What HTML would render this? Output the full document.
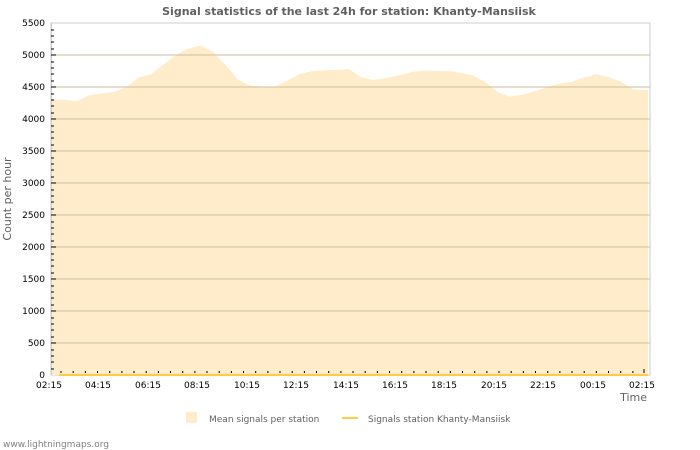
<!DOCTYPE html>
<html><head><meta charset="utf-8"><style>
body{margin:0;background:#fff;}
svg{display:block;font-family:"DejaVu Sans","Liberation Sans",sans-serif;}
</style></head><body>
<svg width="700" height="450" xmlns="http://www.w3.org/2000/svg">
<rect width="700" height="450" fill="#fff"/>
<text x="349" y="15" text-anchor="middle" font-size="11" font-weight="bold" fill="#606060">Signal statistics of the last 24h for station: Khanty-Mansiisk</text>
<rect x="51" y="23" width="599" height="352" fill="#fff" stroke="#ccc"/>
<path d="M52,375 L52,99.2 L64.4,99.8 L76.8,101.1 L89.1,95.3 L101.5,93.4 L113.9,92.1 L126.3,87 L138.6,77.4 L151,74.2 L163.4,64.6 L175.8,55 L188.1,48.6 L200.5,45.4 L212.9,51.8 L225.3,64.6 L237.6,79.3 L250,85.7 L262.4,86.4 L274.8,87 L287.1,80.6 L299.5,74.2 L311.9,71 L324.3,70.4 L336.6,69.7 L349,69.1 L361.4,77.4 L373.8,80 L386.1,78 L398.5,75.5 L410.9,72.3 L423.3,70.4 L435.6,71 L448,71 L460.4,72.9 L472.8,75.5 L485.1,81.9 L497.5,92.1 L509.9,96.6 L522.3,94.7 L534.6,91.5 L547,87 L559.4,83.8 L571.8,81.9 L584.1,77.4 L596.5,74.2 L608.9,77.4 L621.3,81.9 L633.6,89.6 L648,90.2 L648,375 Z" fill="#feecca"/>
<g stroke="#cdbf9f" stroke-width="1">
<line x1="51" y1="343" x2="650" y2="343"/><line x1="51" y1="311" x2="650" y2="311"/><line x1="51" y1="279" x2="650" y2="279"/><line x1="51" y1="247" x2="650" y2="247"/><line x1="51" y1="215" x2="650" y2="215"/><line x1="51" y1="183" x2="650" y2="183"/><line x1="51" y1="151" x2="650" y2="151"/><line x1="51" y1="119" x2="650" y2="119"/><line x1="51" y1="87" x2="650" y2="87"/><line x1="51" y1="55" x2="650" y2="55"/>
</g>
<line x1="59" y1="375" x2="648" y2="375" stroke="#ffcc44" stroke-width="2"/>
<line x1="51.5" y1="23" x2="51.5" y2="375" stroke="#ccc"/>
<g id="yt" stroke="#000">
<path d="M51,369h3M51,362h3M51,356h3M51,350h3M51,337h3M51,330h3M51,324h3M51,318h3M51,305h3M51,298h3M51,292h3M51,286h3M51,273h3M51,266h3M51,260h3M51,254h3M51,241h3M51,234h3M51,228h3M51,222h3M51,209h3M51,202h3M51,196h3M51,190h3M51,177h3M51,170h3M51,164h3M51,158h3M51,145h3M51,138h3M51,132h3M51,126h3M51,113h3M51,106h3M51,100h3M51,94h3M51,81h3M51,74h3M51,68h3M51,62h3M51,49h3M51,42h3M51,36h3M51,30h3"/>
<path d="M51,343h5M51,311h5M51,279h5M51,247h5M51,215h5M51,183h5M51,151h5M51,119h5M51,87h5M51,55h5"/>
</g>
<g stroke="#000">
<path d="M61,373v-2M73.2,373v-2M85.4,373v-2M97.5,373v-2M109.7,373v-2M121.9,373v-2M134,373v-2M146.2,373v-2M158.4,373v-2M170.5,373v-2M182.7,373v-2M194.9,373v-2M207,373v-2M219.2,373v-2M231.4,373v-2M243.5,373v-2M255.7,373v-2M267.9,373v-2M280,373v-2M292.2,373v-2M304.4,373v-2M316.5,373v-2M328.7,373v-2M340.9,373v-2M353,373v-2M365.2,373v-2M377.4,373v-2M389.5,373v-2M401.7,373v-2M413.9,373v-2M426,373v-2M438.2,373v-2M450.4,373v-2M462.5,373v-2M474.7,373v-2M486.9,373v-2M499,373v-2M511.2,373v-2M523.4,373v-2M535.5,373v-2M547.7,373v-2M559.9,373v-2M572,373v-2M584.2,373v-2M596.4,373v-2M608.5,373v-2M620.7,373v-2M632.9,373v-2M644,373v-4"/>
</g>
<g font-size="9" fill="#000" text-anchor="end">
<text x="45" y="378">0</text><text x="45" y="346">500</text><text x="45" y="314">1000</text><text x="45" y="282">1500</text><text x="45" y="250">2000</text><text x="45" y="218">2500</text><text x="45" y="186">3000</text><text x="45" y="154">3500</text><text x="45" y="122">4000</text><text x="45" y="90">4500</text><text x="45" y="58">5000</text><text x="45" y="26">5500</text>
</g>
<g font-size="9" fill="#000" text-anchor="middle">
<text x="49" y="388">02:15</text><text x="98" y="388">04:15</text><text x="148" y="388">06:15</text><text x="197" y="388">08:15</text><text x="247" y="388">10:15</text><text x="296" y="388">12:15</text><text x="346" y="388">14:15</text><text x="395" y="388">16:15</text><text x="444" y="388">18:15</text><text x="494" y="388">20:15</text><text x="543" y="388">22:15</text><text x="593" y="388">00:15</text><text x="642" y="388">02:15</text>
</g>
<text x="647" y="401" text-anchor="end" font-size="11" fill="#606060">Time</text>
<text transform="translate(11,199) rotate(-90)" text-anchor="middle" font-size="11" fill="#606060">Count per hour</text>
<rect x="186" y="412" width="11" height="11" fill="#feecca"/>
<text x="209" y="422" font-size="9" fill="#606060">Mean signals per station</text>
<line x1="342" y1="418" x2="358" y2="418" stroke="#ffcc44" stroke-width="2"/>
<text x="368" y="422" font-size="9" fill="#606060">Signals station Khanty-Mansiisk</text>
<text x="3" y="447" font-size="9" fill="#808080">www.lightningmaps.org</text>
</svg>
</body></html>
